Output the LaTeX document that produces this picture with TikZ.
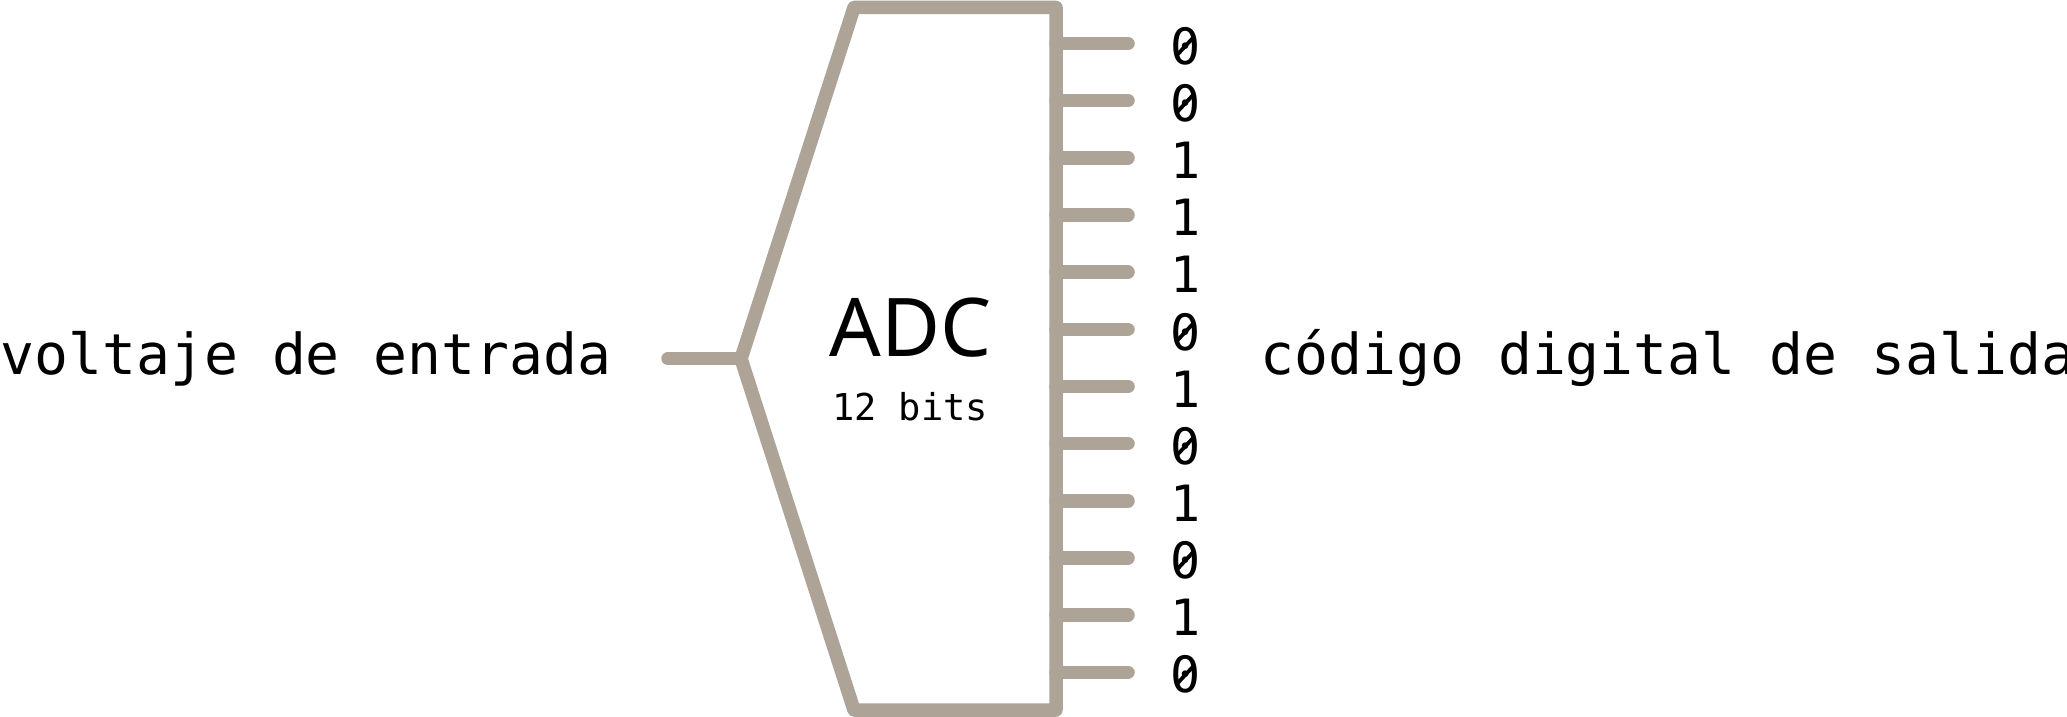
\documentclass[tikz,border=0pt]{standalone}
\usepackage{fontspec}
\setmonofont{DejaVu Sans Mono}
\newfontfamily\adcfont{Noto Sans}
\definecolor{adcgray}{RGB}{173,163,150}
\begin{document}
\begin{tikzpicture}[x=0.5pt,y=-0.5pt,
  wire/.style={draw=adcgray,line width=6.75pt,line cap=round,line join=round},
  label/.style={inner sep=0pt,font=\ttfamily\fontsize{28.2pt}{32pt}\selectfont},
  bit/.style={inner sep=0pt,font=\ttfamily\fontsize{25pt}{28pt}\selectfont},
  zslash/.style={draw=black,line width=1.9pt}]
\useasboundingbox (0,0) rectangle (2067,717);
% body
\coordinate (tl) at (854,7.5);
\coordinate (tr) at (1056,7.5);
\coordinate (br) at (1056,710);
\coordinate (bl) at (854,710);
\coordinate (apex) at (741,358.7);
\coordinate (in) at (668,358.7);
\draw[wire] (tl) -- (tr) -- (br) -- (bl) -- (apex) -- cycle;
\draw[wire] (in) -- (apex);
% texts
\node[label,anchor=base west] (vin) at (0,374) {voltaje de entrada};
\node[label,anchor=base west] (vout) at (1260,374) {código digital de salida};
\node[inner sep=0pt,anchor=base,font=\adcfont\fontsize{40.5pt}{44pt}\selectfont] (adc) at (911,356) {ADC};
\node[inner sep=0pt,anchor=base,font=\ttfamily\fontsize{18.5pt}{22pt}\selectfont] (bits) at (910,420) {12 bits};
% outputs
\foreach \b [count=\i from 0] in {0,0,1,1,1,0,1,0,1,0,1,0} {
  \coordinate (s\i) at (1056,{43.5+57.16*\i});
  \coordinate (e\i) at (1128,{43.5+57.16*\i});
  \node[bit] (b\i) at (1186,{46+57.16*\i}) {\b};
  \draw[wire] (s\i) -- (e\i);
  \ifnum\b=0
    \draw[zslash] ([shift={(-4.3pt,-4.3pt)}]b\i.center) -- ([shift={(3.9pt,4.5pt)}]b\i.center);
  \fi
}
\end{tikzpicture}
\end{document}
